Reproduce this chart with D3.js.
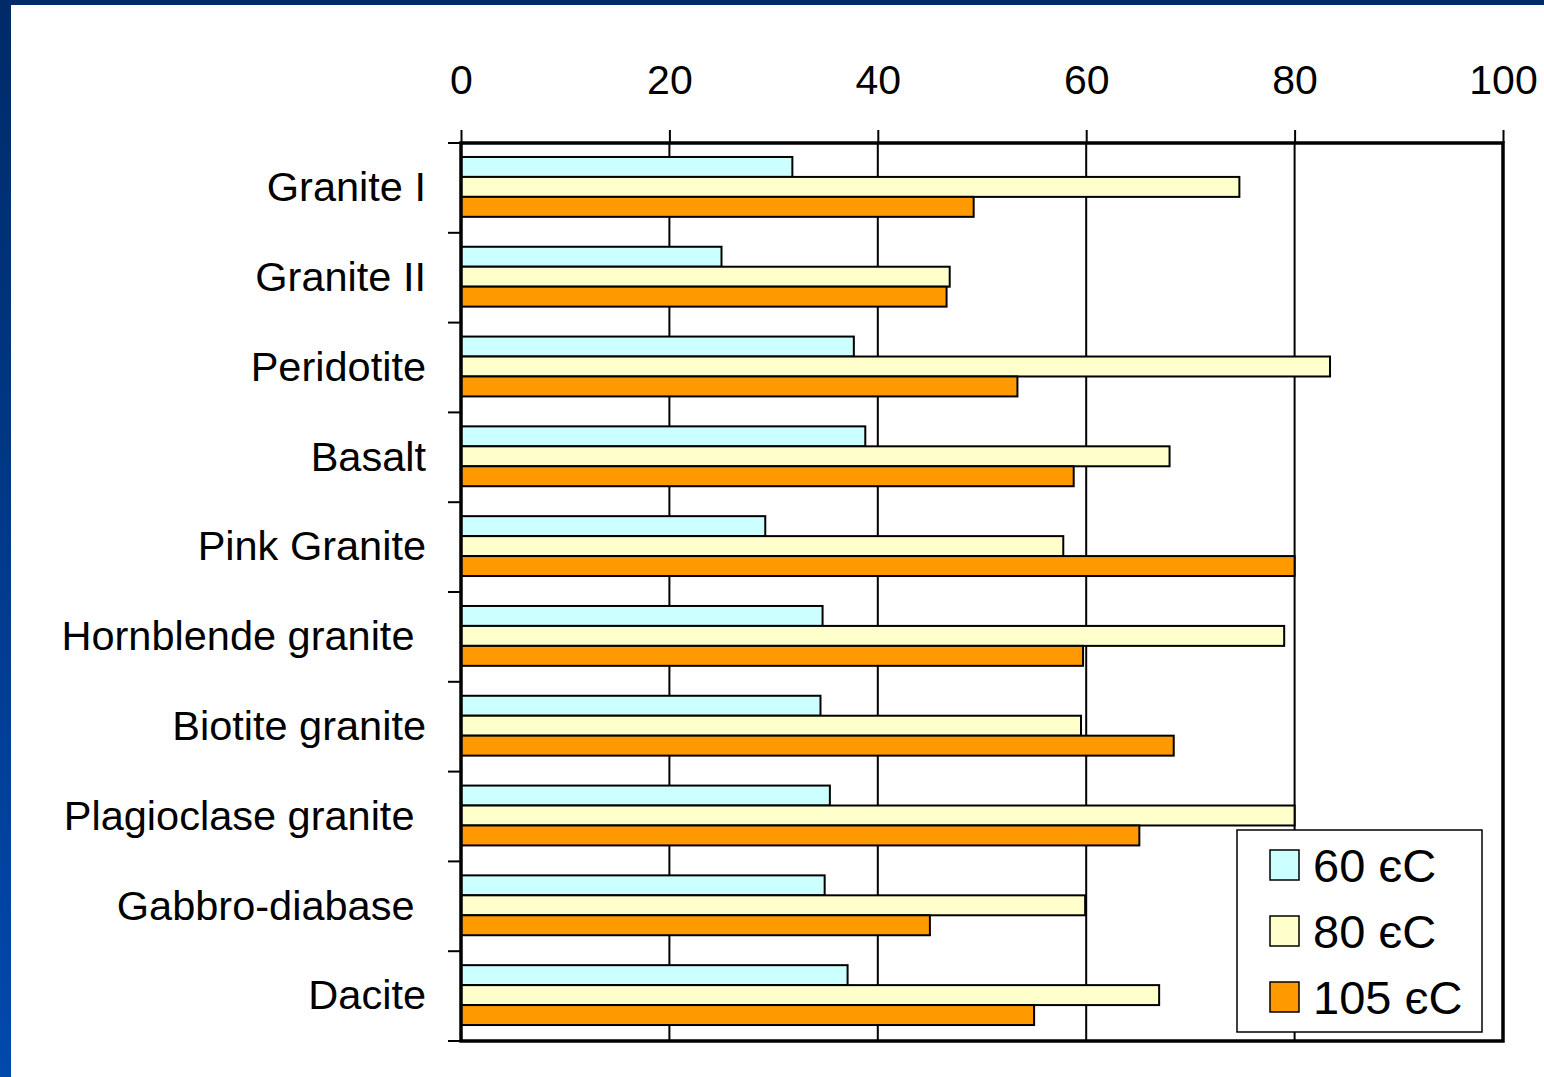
<!DOCTYPE html>
<html>
<head>
<meta charset="utf-8">
<script src="https://cdn.jsdelivr.net/npm/d3@7"></script>
<style>
  html, body { margin: 0; padding: 0; background: #fff; }
  svg { display: block; font-family: "Liberation Sans", Arial, sans-serif; }
  .cat { white-space: pre; }
</style>
</head>
<body>
<svg id="chart" width="1544" height="1077"></svg>
<script>
// Rock types, top to bottom (trailing spaces are part of the labels)
const categories = [
  "Granite I", "Granite II", "Peridotite", "Basalt", "Pink Granite",
  "Hornblende granite ", "Biotite granite", "Plagioclase granite ",
  "Gabbro-diabase ", "Dacite"
];
const seriesNames = ["60 єC", "80 єC", "105 єC"];
const values60  = [31.8, 25.0, 37.7, 38.8, 29.2, 34.7, 34.5, 35.4, 34.9, 37.1];
const values80  = [74.7, 46.9, 83.4, 68.0, 57.8, 79.0, 59.5, 80.0, 59.9, 67.0];
const values105 = [49.2, 46.6, 53.4, 58.8, 80.0, 59.7, 68.4, 65.1, 45.0, 55.0];
const xTicks = [0, 20, 40, 60, 80, 100];

const seriesValues = [values60, values80, values105];
const colors = ["#CCFFFF", "#FFFFCC", "#FF9900"];

const svg = d3.select("#chart");
const W = 1544, H = 1077;

// slide frame: dark navy strip on top, blue gradient strip on the left
const defs = svg.append("defs");
const grad = defs.append("linearGradient").attr("id", "sideGrad")
  .attr("x1", 0).attr("y1", 0).attr("x2", 0).attr("y2", 1);
grad.append("stop").attr("offset", "0%").attr("stop-color", "#002a68");
grad.append("stop").attr("offset", "100%").attr("stop-color", "#0049ad");
svg.append("rect").attr("x", 0).attr("y", 0).attr("width", 11).attr("height", H)
  .attr("fill", "url(#sideGrad)");
svg.append("rect").attr("x", 0).attr("y", 0).attr("width", W).attr("height", 5)
  .attr("fill", "#002a68");

const plot = { left: 461, right: 1503, top: 143, bottom: 1041 };

const x = d3.scaleLinear().domain([0, 100]).range([plot.left, plot.right]);
const y = d3.scaleBand().domain(categories).range([plot.top, plot.bottom])
  .paddingInner(1 / 3).paddingOuter(1 / 6);
const ySub = d3.scaleBand().domain(d3.range(seriesNames.length))
  .range([0, y.bandwidth()]);
const step = y.step();

// vertical gridlines
svg.append("g").selectAll("line").data(xTicks.filter(t => t > 0 && t < 100))
  .join("line")
  .attr("x1", d => x(d)).attr("x2", d => x(d))
  .attr("y1", plot.top).attr("y2", plot.bottom)
  .attr("stroke", "#000").attr("stroke-width", 2);

// bars
const rows = categories.map((c, i) => ({ c, vals: seriesValues.map(s => s[i]) }));
const g = svg.append("g").selectAll("g").data(rows).join("g")
  .attr("transform", d => `translate(0,${y(d.c) - 1})`);
g.selectAll("rect").data(d => d.vals.map((v, k) => ({ v, k })))
  .join("rect")
  .attr("x", x(0))
  .attr("y", d => ySub(d.k))
  .attr("width", d => x(d.v) - x(0))
  .attr("height", ySub.bandwidth())
  .attr("fill", d => colors[d.k])
  .attr("stroke", "#000").attr("stroke-width", 2);

// top value axis
const xAxis = d3.axisTop(x).tickValues(xTicks).tickSize(13).tickPadding(36)
  .tickFormat(d3.format("d"));
const xa = svg.append("g").attr("transform", `translate(0,${plot.top})`).call(xAxis);
xa.select(".domain").remove();
xa.selectAll(".tick line").attr("stroke", "#000").attr("stroke-width", 2);
xa.selectAll(".tick text").attr("font-size", 41).attr("fill", "#000")
  .attr("font-family", "'Liberation Sans', Arial, sans-serif");

// left category ticks at band boundaries
const boundaries = d3.range(categories.length + 1).map(i => plot.top + i * step);
svg.append("g").selectAll("line").data(boundaries).join("line")
  .attr("x1", plot.left - 13).attr("x2", plot.left)
  .attr("y1", d => d).attr("y2", d => d)
  .attr("stroke", "#000").attr("stroke-width", 2);

// category labels
svg.append("g").selectAll("text").data(categories).join("text")
  .attr("class", "cat")
  .attr("x", 426)
  .attr("y", d => y(d) + y.bandwidth() / 2)
  .attr("dy", "0.32em")
  .attr("text-anchor", "end")
  .attr("font-size", 41.5)
  .attr("fill", "#000")
  .text(d => d);

// plot frame
svg.append("rect")
  .attr("x", plot.left).attr("y", plot.top)
  .attr("width", plot.right - plot.left).attr("height", plot.bottom - plot.top)
  .attr("fill", "none").attr("stroke", "#000").attr("stroke-width", 3.5);

// legend
const lg = svg.append("g").attr("transform", "translate(1237,830)");
lg.append("rect").attr("width", 245).attr("height", 202)
  .attr("fill", "#fff").attr("stroke", "#000").attr("stroke-width", 1.5);
const li = lg.selectAll("g").data(seriesNames).join("g")
  .attr("transform", (d, i) => `translate(0,${35 + i * 66})`);
li.append("rect").attr("x", 33).attr("y", -15).attr("width", 29).attr("height", 30)
  .attr("fill", (d, i) => colors[i]).attr("stroke", "#000").attr("stroke-width", 1.5);
li.append("text").attr("x", 76).attr("dy", "0.36em")
  .attr("font-size", 47).attr("fill", "#000").text(d => d);
</script>
</body>
</html>
